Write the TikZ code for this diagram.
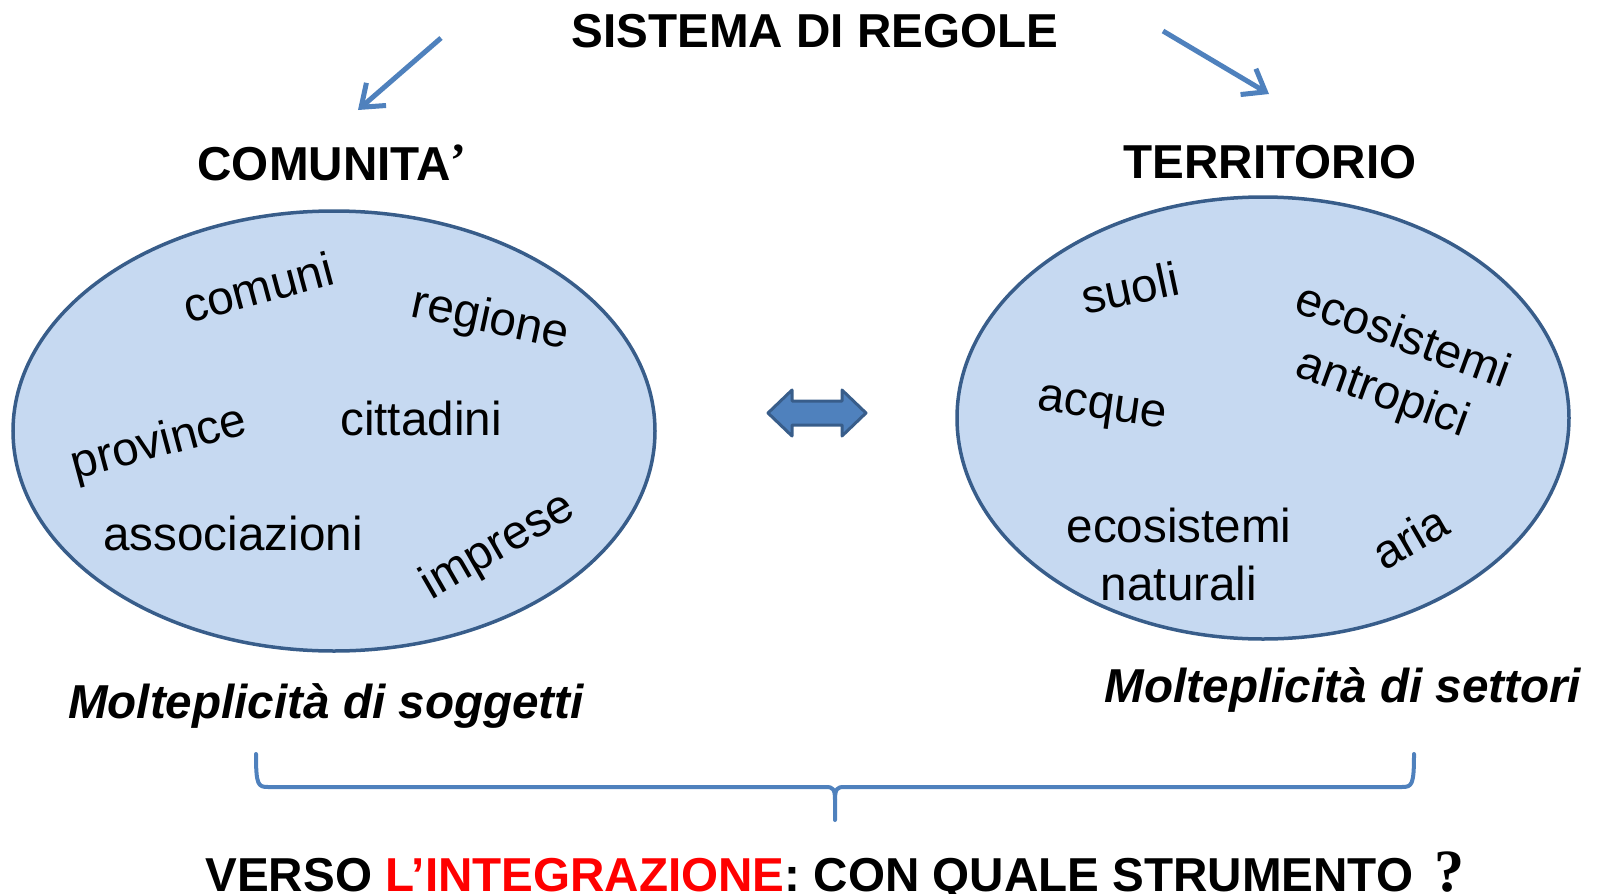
\documentclass[tikz,border=0pt]{standalone}
\usepackage{fontspec}
\setmainfont{Liberation Sans}
\newfontfamily\serifbold{Liberation Serif}
\usetikzlibrary{shapes.geometric,arrows.meta}
\definecolor{arrowblue}{HTML}{4F81BD}
\definecolor{edgeblue}{HTML}{385D8A}
\definecolor{fillblue}{HTML}{C6D9F1}
\definecolor{accentred}{HTML}{FF0000}
\begin{document}
\begin{tikzpicture}[x=0.5pt,y=-0.5pt,
  word/.style={font=\fontsize{23.8}{28}\selectfont, inner sep=0pt, text height=17pt, text depth=0pt},
  head/.style={font=\fontsize{23.8}{28}\selectfont\bfseries, inner sep=0pt, text height=17pt, text depth=0pt},
  note/.style={font=\fontsize{23.8}{28}\selectfont\bfseries\itshape, inner sep=0pt, text height=17pt, text depth=0pt},
  blob/.style={ellipse, draw=edgeblue, fill=fillblue, line width=1.75pt, inner sep=0pt},
  toparrow/.style={draw=arrowblue, line width=2.5pt, -{Straight Barb[length=10pt,width=15pt,line width=2.5pt]}},
  bracestyle/.style={draw=arrowblue, line width=2pt, line join=round, line cap=round}]
\useasboundingbox (0,0) rectangle (1602,894);

% ellipses
\node[blob, minimum width=321pt, minimum height=220pt] (comm) at (334,431) {};
\node[blob, minimum width=306pt, minimum height=221pt] (terr) at (1263,418) {};

% headings
\node[head] (title) at (815,30) {SISTEMA DI REGOLE};
\node[head] (comt) at (332,163) {COMUNITA{\serifbold\raisebox{2pt}{’}}};
\node[head] (tert) at (1270,161) {TERRITORIO};

% top arrows
\coordinate (la1) at (441,38);
\coordinate (la2) at (358,110);
\coordinate (ra1) at (1163,31);
\coordinate (ra2) at (1269,94);
\draw[toparrow] (la1) -- (la2);
\draw[toparrow] (ra1) -- (ra2);

% words in left ellipse
\node[word, rotate=15] (w1) at (258,287) {comuni};
\node[word, rotate=-12] (w2) at (491,316) {regione};
\node[word, rotate=15] (w3) at (158,440) {province};
\node[word] (w4) at (421,418) {cittadini};
\node[word] (w5) at (233,533) {associazioni};
\node[word, rotate=30] (w6) at (496,543) {imprese};

% words in right ellipse
\node[word, rotate=12] (v1) at (1130,288) {suoli};
\node[word, rotate=-20] (v2) at (1404,334) {ecosistemi};
\node[word, rotate=-20] (v3) at (1384,390) {antropici};
\node[word, rotate=-8] (v4) at (1103,402) {acque};
\node[word] (v5) at (1179,525) {ecosistemi};
\node[word] (v6) at (1179,583) {naturali};
\node[word, rotate=30] (v7) at (1410,537) {aria};

% captions
\node[note] (c1) at (326,701) {Molteplicità di soggetti};
\node[note] (c2) at (1343,685) {Molteplicità di settori};

% double arrow
\draw[fill=arrowblue, draw=edgeblue, line width=1.5pt, line join=round]
  (768,413) -- (792,390) -- (792,401) -- (842,401) -- (842,390) -- (866,413)
  -- (842,436) -- (842,425) -- (792,425) -- (792,436) -- cycle;

% brace
\coordinate (bl) at (256,754);
\coordinate (br) at (1414,754);
\coordinate (bt) at (835,820);
\draw[bracestyle] (bl) .. controls (256,785) and (258,787) .. (268,787)
  -- (826,787) .. controls (833,787) and (835,789) .. (835,800) -- (bt);
\draw[bracestyle] (br) .. controls (1414,785) and (1412,787) .. (1402,787)
  -- (844,787) .. controls (837,787) and (835,789) .. (835,800);

% bottom question
\node[head] (q) at (835,874) {VERSO \textcolor{accentred}{L’INTEGRAZIONE}: CON QUALE STRUMENTO\hspace{0.45em}{\serifbold\fontsize{30}{34}\selectfont ?}};
\end{tikzpicture}
\end{document}
